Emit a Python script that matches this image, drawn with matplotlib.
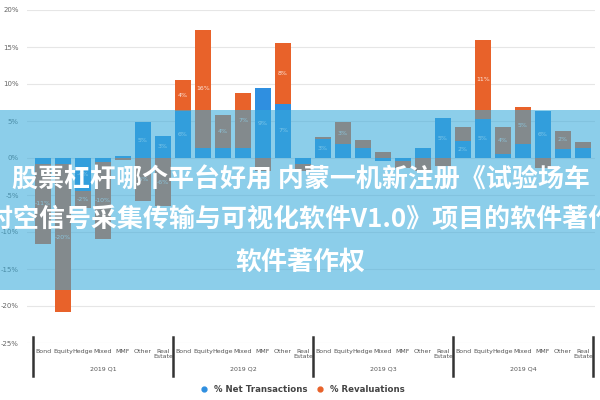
import matplotlib
matplotlib.use('Agg')
import matplotlib.pyplot as plt
import matplotlib.transforms as mtransforms
from matplotlib.patches import Rectangle
from matplotlib.lines import Line2D
import numpy as np

categories = ["Bond", "Equity", "Hedge", "Mixed", "MMF", "Other", "Real\nEstate"]
quarters = ["2019 Q1", "2019 Q2", "2019 Q3", "2019 Q4"]
net_transactions = [
    -0.8, -0.8, -4.5, -0.5, 0.3, 4.8, 3.0,
    6.4, 1.4, 1.4, 1.4, 9.4, 7.3, -0.8,
    2.6, 1.9, 1.4, -0.4, -0.4, 1.4, 5.4,
    2.3, 5.3, 0.5, 1.9, 6.4, 1.2, 1.4]
revaluations = [
    -10.8, -20.0, -2.3, -10.5, -0.3, -5.8, -6.5,
    4.1, 15.9, 4.4, 7.4, -1.8, 8.2, -1.0,
    0.2, 2.9, 1.0, 0.8, -1.0, -1.8, -1.1,
    1.9, 10.6, 3.7, 5.0, -1.4, 2.5, 0.7]
yticks = [20, 15, 10, 5, 0, -5, -10, -15, -20, -25]
series_names = ["% Net Transactions", "% Revaluations"]
banner_lines = ["股票杠杆哪个平台好用 内蒙一机新注册《试验场车",
                "载时空信号采集传输与可视化软件V1.0》项目的软件著作权",
                "软件著作权"]

BLUE = "#2f8fe0"
ORANGE = "#e8622a"

W, H = 600, 400
fig = plt.figure(figsize=(6, 4), dpi=100)
ax = fig.add_axes([27 / W, 1 - 343 / H, (595 - 27) / W, (343 - 10) / H])

n = len(net_transactions)
x = np.arange(n)
net = np.array(net_transactions)
rev = np.array(revaluations)
rev_bottom = np.where(np.sign(net) == np.sign(rev), net, 0.0)

ax.bar(x, net, width=0.8, color=BLUE, zorder=3)
ax.bar(x, rev, width=0.8, bottom=rev_bottom, color=ORANGE, zorder=3)

for i in range(n):
    if abs(net[i]) >= 2:
        ax.text(x[i], net[i] / 2, f"{round(net[i]):d}%", ha='center', va='center',
                fontsize=4.5, color='white', alpha=0.85, zorder=4)
    if abs(rev[i]) >= 2:
        ax.text(x[i], rev_bottom[i] + rev[i] / 2, f"{round(rev[i]):d}%", ha='center', va='center',
                fontsize=4.5, color='white', alpha=0.85, zorder=4)

ax.set_xlim(-0.8, 27.6)
ax.set_ylim(-25, 20)
ax.set_yticks(yticks)
ax.set_yticklabels([f"{t}%" for t in yticks], fontsize=5, color="#666666")
ax.yaxis.grid(True, color="#e6e6e6", lw=0.8, zorder=0)
ax.set_xticks(x)
ax.set_xticklabels(categories * len(quarters), fontsize=4.5, color="#555555", linespacing=1.0)
ax.tick_params(axis='both', length=0)
ax.tick_params(axis='x', pad=4)
ax.tick_params(axis='y', pad=6)
for s in ax.spines.values():
    s.set_visible(False)

trans = mtransforms.blended_transform_factory(ax.transData, fig.transFigure)
ncat = len(categories)
for g in range(len(quarters) + 1):
    xs = g * ncat - 0.5
    ax.plot([xs, xs], [1 - 337 / H, 1 - 376 / H], transform=trans, color="#333333",
            lw=1.8, clip_on=False, zorder=5)
for g, q in enumerate(quarters):
    ax.text(g * ncat + (ncat - 1) / 2, 1 - 369 / H, q, transform=trans, ha='center',
            va='center', fontsize=4.5, color="#555555")

handles = [Line2D([], [], marker='o', ls='', color=BLUE, markersize=3.5),
           Line2D([], [], marker='o', ls='', color=ORANGE, markersize=3.5)]
leg = fig.legend(handles, series_names, loc='center', bbox_to_anchor=(0.5, 1 - 390 / H),
                 ncol=2, frameon=False, handletextpad=0.1, columnspacing=0.5,
                 prop={'size': 6.2, 'weight': 'bold'})
for t in leg.get_texts():
    t.set_color("#444444")

fig.patches.append(Rectangle((0, 1 - 290 / H), 1, 180 / H, transform=fig.transFigure,
                             facecolor="#36aada", alpha=0.57, edgecolor='none', zorder=10))

fam = ['Noto Sans CJK SC', 'DejaVu Sans']
FS = 18.7
fig.text(301 / W, 1 - 180 / H, banner_lines[0], ha='center', va='center', fontsize=FS,
         fontweight='bold', color='white', family=fam, zorder=11)
fig.text(-38 / W, 1 - 220 / H, banner_lines[1], ha='left', va='center', fontsize=FS,
         fontweight='bold', color='white', family=fam, zorder=11)
fig.text(300 / W, 1 - 262 / H, banner_lines[2], ha='center', va='center', fontsize=FS,
         fontweight='bold', color='white', family=fam, zorder=11)

fig.savefig("out.png", dpi=100)
